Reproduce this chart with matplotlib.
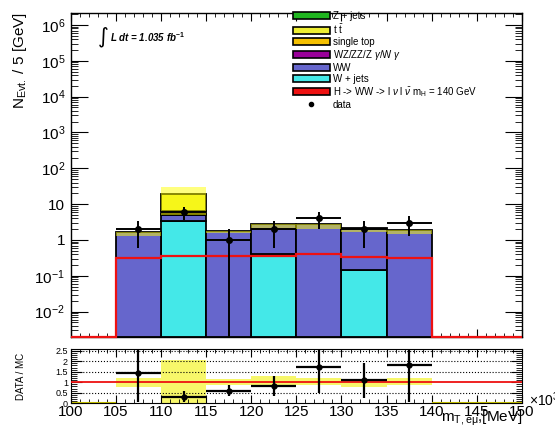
import numpy as np
import matplotlib
matplotlib.use("Agg")
import matplotlib.pyplot as plt
from matplotlib.patches import Patch
from matplotlib.lines import Line2D
from matplotlib.ticker import MultipleLocator, LogLocator, FuncFormatter, NullFormatter

plt.rcParams['font.family'] = ['Liberation Sans', 'DejaVu Sans']
plt.rcParams['mathtext.fontset'] = 'custom'
plt.rcParams['mathtext.rm'] = 'Liberation Sans'
plt.rcParams['mathtext.it'] = 'Liberation Sans:italic'
plt.rcParams['mathtext.bf'] = 'Liberation Sans:bold'

# ---------------- data ----------------
bin_edges = [100, 105, 110, 115, 120, 125, 130, 135, 140, 145, 150]
wjets      = [0, 0, 3.4, 0, 0.41, 0, 0.146, 0, 0, 0]
ww         = [0, 1.64, 1.5, 1.81, 2.38, 2.79, 1.95, 1.9, 0, 0]
diboson    = [0, 0, 0.4, 0, 0, 0, 0, 0, 0, 0]
single_top = [0, 0, 1.0, 0, 0, 0, 0, 0, 0, 0]
ttbar      = [0, 0, 12.8, 0, 0, 0, 0, 0, 0, 0]
zjets      = [0, 0, 0, 0, 0, 0, 0, 0, 0, 0]
higgs      = [0, 0.315, 0.36, 0.36, 0.365, 0.41, 0.33, 0.31, 0, 0]
band_lo    = [0, 1.27, 5.0, 1.54, 2.03, 2.03, 1.64, 1.47, 0, 0]
band_hi    = [0, 1.64, 31.0, 1.81, 2.79, 2.79, 2.05, 1.90, 0, 0]

data_x   = [107.5, 112.5, 117.5, 122.5, 127.5, 132.5, 137.5]
data_y   = [2, 6, 1, 2, 4, 2, 3]
data_err = [1.41, 2.45, 1.0, 1.41, 2.0, 1.41, 1.73]

ratio        = [1.44, 0.31, 0.59, 0.83, 1.72, 1.09, 1.83]
ratio_low    = [0.08, 0.08, 0.36, 0.36, 0.47, 0.23, 0.08]
ratio_high   = [2.70, 0.58, 0.86, 1.28, 2.70, 1.92, 2.70]
rband_lo     = [0, 0.79, 0.0, 0.87, 0.78, 0.86, 0.78, 0.86, 0, 0]
rband_hi     = [0, 1.21, 2.08, 1.15, 1.28, 1.20, 1.17, 1.20, 0, 0]

labels = ["Z + jets", r"t $\bar{\mathrm{t}}$", "single top", r"WZ/ZZ/Z $\gamma$/W $\gamma$",
          "WW", "W + jets", r"H -> WW -> l $\nu$ l $\bar{\nu}$ m$_{\mathrm{H}}$ = 140 GeV", "data"]
colors = {"zjets": "#1fb51f", "ttbar": "#eeee33", "stop": "#f5c000", "diboson": "#990099",
          "ww": "#6666cc", "wjets": "#44e8e8", "higgs": "#ee1111"}

# ---------------- figure ----------------
W, H = 555, 430
fig = plt.figure(figsize=(W / 100, H / 100), dpi=100)
L, R = 70.7, 522.0
ax = fig.add_axes([L / W, 1 - 336.7 / H, (R - L) / W, (336.7 - 12.7) / H])
axr = fig.add_axes([L / W, 1 - 403.3 / H, (R - L) / W, (403.3 - 349.3) / H])

edges = np.array(bin_edges, dtype=float)
left = edges[:-1]
width = np.diff(edges)
ymin, ymax = 0.002, 2.2e6

ax.set_yscale('log')
ax.set_xlim(100, 150)
ax.set_ylim(ymin, ymax)

layers = [(wjets, colors["wjets"]), (ww, colors["ww"]), (diboson, colors["diboson"]),
          (single_top, colors["stop"]), (ttbar, colors["ttbar"]), (zjets, colors["zjets"])]
bottom = np.zeros(len(left))
for vals, col in layers:
    v = np.array(vals, dtype=float)
    m = v > 0
    bot = np.where(bottom > 0, bottom, ymin)
    ax.bar(left[m], (bottom + v)[m] - bot[m], width=width[m], bottom=bot[m], align='edge',
           color=col, edgecolor='black', linewidth=1.3, zorder=2)
    bottom = bottom + v

blo = np.array(band_lo); bhi = np.array(band_hi)
m = bhi > 0
ax.bar(left[m], (bhi - blo)[m], width=width[m], bottom=blo[m], align='edge',
       color='#ffff00', alpha=0.5, edgecolor='none', zorder=3)

hv = np.maximum(np.array(higgs, dtype=float), ymin)
ax.stairs(hv, edges, baseline=None, color=colors["higgs"], linewidth=1.6, zorder=4, clip_on=False)

dy = np.array(data_y, dtype=float); de = np.array(data_err)
ax.errorbar(data_x, dy, yerr=[np.minimum(de, dy - 1e-9), de], xerr=2.5, fmt='o', ms=4,
            color='black', elinewidth=1.4, capsize=0, zorder=5)

# ticks main
ax.xaxis.set_major_locator(MultipleLocator(5))
ax.xaxis.set_minor_locator(MultipleLocator(1))
ax.yaxis.set_major_locator(LogLocator(base=10, numticks=20))
ax.yaxis.set_minor_locator(LogLocator(base=10, subs=np.arange(2, 10), numticks=20))
ax.yaxis.set_minor_formatter(NullFormatter())

def logfmt(v, pos):
    e = int(round(np.log10(v)))
    if e == 0:
        return "1"
    if e == 1:
        return "10"
    return r"10$^{%d}$" % e

ax.yaxis.set_major_formatter(FuncFormatter(logfmt))
ax.tick_params(axis='x', which='both', direction='in', top=True, bottom=True, labelbottom=False)
ax.tick_params(axis='x', which='major', length=6)
ax.tick_params(axis='x', which='minor', length=3)
ax.tick_params(axis='y', which='both', direction='in', left=True, right=True, labelsize=11, pad=4)
ax.tick_params(axis='y', which='major', length=12)
ax.tick_params(axis='y', which='minor', length=5)
for s in ax.spines.values():
    s.set_linewidth(1.0)

# legend
handles = [Patch(facecolor=colors["zjets"], edgecolor='black', linewidth=1.2),
           Patch(facecolor=colors["ttbar"], edgecolor='black', linewidth=1.2),
           Patch(facecolor=colors["stop"], edgecolor='black', linewidth=1.2),
           Patch(facecolor=colors["diboson"], edgecolor='black', linewidth=1.2),
           Patch(facecolor=colors["ww"], edgecolor='black', linewidth=1.2),
           Patch(facecolor=colors["wjets"], edgecolor='black', linewidth=1.2),
           Patch(facecolor=colors["higgs"], edgecolor='black', linewidth=1.2),
           Line2D([], [], marker='o', color='black', ls='none', ms=3)]
fig.legend(handles, labels, loc='upper left', bbox_to_anchor=(292.7 / W, 1 - 11 / H),
           frameon=False, fontsize=7, handlelength=3.8, handleheight=0.65, handletextpad=0.3,
           labelspacing=0.1, borderpad=0, borderaxespad=0)

fig.text(103 / W, 1 - 37 / H, "\u222b", fontsize=15, family='DejaVu Sans', ha='center', va='center')
fig.text(110 / W, 1 - 37.5 / H, r"L dt = 1.035 fb$^{\mathbf{-1}}$", fontsize=7, weight='bold',
         style='italic', ha='left', va='center')

fig.text(20 / W, 1 - 12 / H, r"N$_{\mathrm{Evt.}}$ / 5 [GeV]", fontsize=11, rotation=90,
         ha='center', va='top')

# ---------------- ratio ----------------
axr.set_xlim(100, 150)
axr.set_ylim(0, 2.57)
rlo = np.array(rband_lo); rhi = np.array(rband_hi)
m = rhi > 0
axr.bar(left[m], (rhi - rlo)[m], width=width[m], bottom=rlo[m], align='edge',
        color='#f7f76a', edgecolor='none', zorder=1)
for i in np.where(~m)[0]:
    axr.hlines(0, left[i], left[i] + width[i], color='#c8c400', linewidth=1.5, zorder=2, clip_on=False)
for yv in [0.5, 1.5, 2.0, 2.5]:
    axr.axhline(yv, color='black', linestyle=':', linewidth=0.8, zorder=2)
axr.axhline(1.0, color=colors["higgs"], linewidth=1.3, zorder=3)
rv = np.array(ratio)
axr.errorbar(data_x, rv, yerr=[rv - np.array(ratio_low), np.array(ratio_high) - rv], xerr=2.5,
             fmt='o', ms=3.5, color='black', elinewidth=1.6, capsize=0, zorder=5)

axr.xaxis.set_major_locator(MultipleLocator(5))
axr.xaxis.set_minor_locator(MultipleLocator(1))
axr.yaxis.set_major_locator(MultipleLocator(0.5))
axr.yaxis.set_minor_locator(MultipleLocator(0.1))
axr.yaxis.set_major_formatter(FuncFormatter(lambda v, p: ("%g" % v)))
axr.tick_params(axis='x', which='both', direction='in', top=True, bottom=True, labelsize=11, pad=1)
axr.tick_params(axis='x', which='major', length=6)
axr.tick_params(axis='x', which='minor', length=3)
axr.tick_params(axis='y', which='both', direction='in', left=True, right=True, labelsize=6.5, pad=2)
axr.tick_params(axis='y', which='major', length=8)
axr.tick_params(axis='y', which='minor', length=4)

fig.text(21 / W, 1 - 376 / H, "DATA / MC", fontsize=7, rotation=90, ha='center', va='center')
fig.text(523 / W, 1 - 428 / H, r"m$_{\mathrm{T,e\mu}}$,[MeV]", fontsize=11, ha='right', va='bottom')
fig.text(529 / W, 1 - 400 / H, r"$\times$10$^{3}$", fontsize=10, ha='left', va='center')

fig.savefig("out.png", dpi=100)
